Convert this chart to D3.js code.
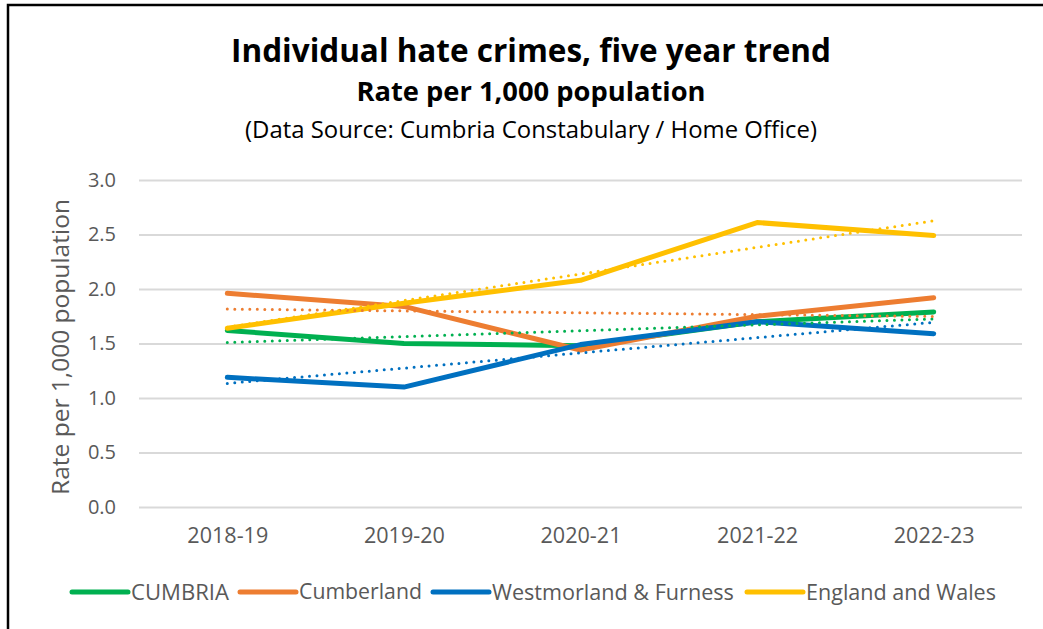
<!DOCTYPE html>
<html>
<head>
<meta charset="utf-8">
<title>Individual hate crimes</title>
<script src="https://cdn.jsdelivr.net/npm/d3@7"></script>
<style>
  body { margin: 0; background: #fff; }
  text { font-family: "Open Sans", "Noto Sans", sans-serif; font-variant-ligatures: none; }
</style>
</head>
<body>
<div id="chart"></div>
<script>
const years = ['2018-19', '2019-20', '2020-21', '2021-22', '2022-23'];
const cumbria = [1.62, 1.50, 1.48, 1.70, 1.79];
const cumberland = [1.96, 1.84, 1.44, 1.75, 1.92];
const westmorland = [1.19, 1.10, 1.49, 1.70, 1.59];
const englandWales = [1.64, 1.87, 2.08, 2.61, 2.49];
const yTicks = [0, 0.5, 1, 1.5, 2, 2.5, 3];

const series = [
  { name: 'CUMBRIA', values: cumbria, color: '#00b050' },
  { name: 'Cumberland', values: cumberland, color: '#ed7d31' },
  { name: 'Westmorland & Furness', values: westmorland, color: '#0070c0' },
  { name: 'England and Wales', values: englandWales, color: '#ffc000' }
];

const width = 1043, height = 629;
const svg = d3.select('#chart').append('svg')
  .attr('width', width)
  .attr('height', height);

// shrink/grow a text so it spans the given width
function fitWidth(sel, target) {
  const size = parseFloat(sel.style('font-size'));
  const w = sel.node().getComputedTextLength();
  sel.style('font-size', (size * target / w).toFixed(2) + 'px');
}

// frame (only top and left edges show in the crop)
svg.append('path')
  .attr('d', `M8,${height} L8,5 L${width},5`)
  .attr('fill', 'none')
  .attr('stroke', '#000')
  .attr('stroke-width', 2.5);

// titles
svg.append('text')
  .attr('x', 531).attr('y', 62)
  .attr('text-anchor', 'middle')
  .style('font-size', '28px').style('font-weight', 'bold').attr('fill', '#000')
  .text('Individual hate crimes, five year trend')
  .call(fitWidth, 600);
svg.append('text')
  .attr('x', 531).attr('y', 101)
  .attr('text-anchor', 'middle')
  .style('font-size', '22px').style('font-weight', 'bold').attr('fill', '#000')
  .text('Rate per 1,000 population')
  .call(fitWidth, 349);
svg.append('text')
  .attr('x', 531).attr('y', 138)
  .attr('text-anchor', 'middle')
  .style('font-size', '20px').attr('fill', '#000')
  .text('(Data Source: Cumbria Constabulary / Home Office)')
  .call(fitWidth, 572);

const x = d3.scalePoint().domain(years).range([139, 1022]).padding(0.5);
const y = d3.scaleLinear().domain([0, 3]).range([507, 180]);

// gridlines + y axis
const yAxis = svg.append('g')
  .attr('transform', 'translate(139,0)')
  .call(d3.axisLeft(y).tickValues(yTicks).tickFormat(d3.format('.1f'))
    .tickSize(-883).tickPadding(23));
yAxis.select('.domain').remove();
yAxis.selectAll('.tick line').attr('stroke', '#d9d9d9').attr('stroke-width', 2);
yAxis.selectAll('.tick text')
  .attr('fill', '#595959')
  .style('font-size', '20px');

// x axis labels
const xAxis = svg.append('g')
  .attr('transform', 'translate(0,507)')
  .call(d3.axisBottom(x).tickSize(0).tickPadding(21));
xAxis.select('.domain').remove();
xAxis.selectAll('.tick text')
  .attr('fill', '#595959')
  .style('font-size', '20px')
  .each(function() { d3.select(this).call(fitWidth, 81); });

// y axis title
svg.append('text')
  .attr('transform', 'translate(69,347) rotate(-90)')
  .attr('text-anchor', 'middle')
  .attr('fill', '#595959')
  .style('font-size', '20px')
  .text('Rate per 1,000 population')
  .call(fitWidth, 296);

const line = d3.line()
  .x((d, i) => x(years[i]))
  .y(d => y(d));

// least squares trend through each series
function trend(values) {
  const xs = values.map((d, i) => i + 1);
  const mx = d3.mean(xs), my = d3.mean(values);
  const b = d3.sum(xs, (xi, i) => (xi - mx) * (values[i] - my)) / d3.sum(xs, xi => (xi - mx) ** 2);
  const a = my - b * mx;
  return xs.map(xi => a + b * xi);
}

svg.append('g').selectAll('path')
  .data(series)
  .join('path')
    .attr('d', d => line(d.values))
    .attr('fill', 'none')
    .attr('stroke', d => d.color)
    .attr('stroke-width', 5)
    .attr('stroke-linejoin', 'round')
    .attr('stroke-linecap', 'round');

svg.append('g').selectAll('path')
  .data(series)
  .join('path')
    .attr('d', d => line(trend(d.values)))
    .attr('fill', 'none')
    .attr('stroke', d => d.color)
    .attr('stroke-width', 3)
    .attr('stroke-dasharray', '0,7.5')
    .attr('stroke-linecap', 'round');

// legend
const legendX = [72, 240, 433, 747];
const legendW = [98, 123, 242, 190];
const legend = svg.append('g').selectAll('g')
  .data(series)
  .join('g')
    .attr('transform', (d, i) => `translate(${legendX[i]},592)`);
legend.append('line')
  .attr('x1', 0).attr('x2', 56)
  .attr('stroke', d => d.color)
  .attr('stroke-width', 5)
  .attr('stroke-linecap', 'round');
legend.append('text')
  .attr('x', 59).attr('dy', '0.35em')
  .attr('fill', '#595959')
  .style('font-size', '20px')
  .text(d => d.name)
  .each(function(d, i) { d3.select(this).call(fitWidth, legendW[i]); });
</script>
</body>
</html>
